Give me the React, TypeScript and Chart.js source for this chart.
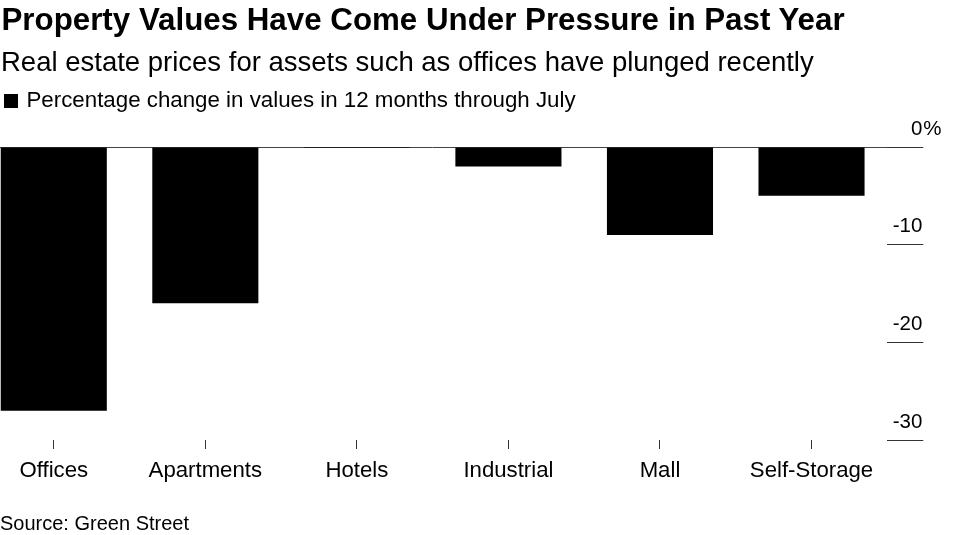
import React, { useEffect, useRef } from "react";
import { Chart, registerables } from "chart.js";

Chart.register(...registerables);

const title = "Property Values Have Come Under Pressure in Past Year";
const subtitle = "Real estate prices for assets such as offices have plunged recently";
const seriesLabel = "Percentage change in values in 12 months through July";
const sourceText = "Source: Green Street";

const categories = ["Offices", "Apartments", "Hotels", "Industrial", "Mall", "Self-Storage"];
const values = [-27.0, -16.0, -0.1, -2.0, -9.0, -5.0];
const yTicks = [0, -10, -20, -30];
const yTickLabels = ["0", "-10", "-20", "-30"];
const yUnit = "%";

const FONT = '"Liberation Sans", Arial, Helvetica, sans-serif';
const CANVAS_LEFT = -22.3;
const CANVAS_W = 992;
const CANVAS_H = 535;
const AREA_RIGHT = 909.3; // right edge of plot area in canvas coordinates
const Y_TICK_LEN = 36;

const yLabelPlugin = {
  id: "yLabelPlugin",
  afterDraw(chart: any) {
    const scale = chart.scales.y;
    const ctx = chart.ctx;
    const x = chart.chartArea.right + Y_TICK_LEN - 1;
    ctx.save();
    ctx.font = `20.5px ${FONT}`;
    ctx.fillStyle = "#000";
    ctx.textBaseline = "alphabetic";
    yTicks.forEach((v, i) => {
      const y = scale.getPixelForValue(v) - 12.5;
      ctx.textAlign = "right";
      ctx.fillText(yTickLabels[i], x, y);
      if (v === 0) {
        ctx.textAlign = "left";
        ctx.fillText(yUnit, x + 1, y);
      }
    });
    ctx.restore();
  },
};

export default function App() {
  const canvasRef = useRef<HTMLCanvasElement | null>(null);

  useEffect(() => {
    if (!canvasRef.current) return;
    const chart = new Chart(canvasRef.current, {
      type: "bar",
      data: {
        labels: categories,
        datasets: [
          {
            label: seriesLabel,
            data: values,
            backgroundColor: "#000",
            borderWidth: 0,
            categoryPercentage: 1,
            barPercentage: 0.7,
          },
        ],
      },
      options: {
        responsive: false,
        animation: false,
        devicePixelRatio: 1,
        layout: { padding: { top: 147, left: 0, right: 0, bottom: 0 } },
        plugins: {
          legend: { display: false },
          tooltip: { enabled: false },
          title: { display: false },
        },
        scales: {
          x: {
            position: "bottom",
            border: { display: false },
            grid: {
              offset: false,
              drawOnChartArea: false,
              drawTicks: true,
              tickLength: 9,
              tickColor: "#333",
              tickWidth: 1,
            },
            ticks: {
              color: "#000",
              font: { family: FONT, size: 22.2 },
              padding: 9,
              maxRotation: 0,
              autoSkip: false,
            },
            afterFit(scale: any) {
              scale.height = 95;
            },
          },
          y: {
            position: "right",
            min: -30,
            max: 0,
            border: { display: false },
            grid: {
              drawOnChartArea: true,
              color: (c: any) => (c.tick && c.tick.value === 0 ? "#444" : "rgba(0,0,0,0)"),
              lineWidth: 1,
              drawTicks: true,
              tickLength: Y_TICK_LEN,
              tickColor: "#333",
              tickWidth: 1,
            },
            ticks: { display: false, stepSize: 10 },
            afterBuildTicks(scale: any) {
              scale.ticks = yTicks.map((v) => ({ value: v }));
            },
            afterFit(scale: any) {
              scale.width = CANVAS_W - AREA_RIGHT;
            },
          },
        },
      },
      plugins: [yLabelPlugin],
    });
    return () => chart.destroy();
  }, []);

  const textBase: React.CSSProperties = {
    position: "absolute",
    whiteSpace: "nowrap",
    color: "#000",
    fontFamily: FONT,
  };

  return (
    <div
      style={{
        position: "absolute",
        left: 0,
        top: 0,
        width: 969,
        height: 535,
        overflow: "hidden",
        background: "#fff",
        fontFamily: FONT,
      }}
    >
      <div
        style={{
          position: "absolute",
          left: CANVAS_LEFT,
          top: 0,
          width: CANVAS_W,
          height: CANVAS_H,
        }}
      >
        <canvas ref={canvasRef} width={CANVAS_W} height={CANVAS_H} />
      </div>
      <div
        style={{
          ...textBase,
          left: 1.5,
          top: 3.5,
          fontSize: 31.3,
          lineHeight: "31.3px",
          fontWeight: 700,
        }}
      >
        {title}
      </div>
      <div
        style={{
          ...textBase,
          left: 1,
          top: 47.8,
          fontSize: 27.5,
          lineHeight: "27.5px",
        }}
      >
        {subtitle}
      </div>
      <div
        style={{
          position: "absolute",
          left: 4,
          top: 94,
          width: 14,
          height: 14,
          background: "#000",
        }}
      />
      <div
        style={{
          ...textBase,
          left: 26.5,
          top: 89.1,
          fontSize: 22.3,
          lineHeight: "22.3px",
        }}
      >
        {seriesLabel}
      </div>
      <div
        style={{
          ...textBase,
          left: 0,
          top: 513,
          fontSize: 20,
          lineHeight: "20px",
        }}
      >
        {sourceText}
      </div>
    </div>
  );
}
